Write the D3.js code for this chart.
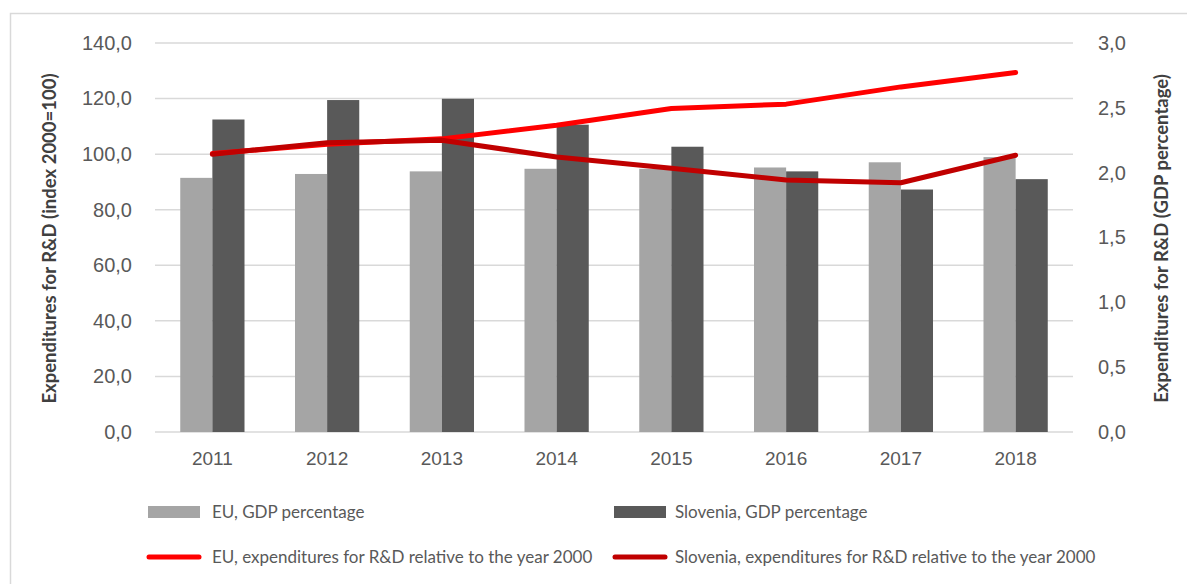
<!DOCTYPE html>
<html>
<head>
<meta charset="utf-8">
<script src="https://cdn.jsdelivr.net/npm/d3@7"></script>
<style>
  html, body { margin: 0; padding: 0; background: #fff; }
  svg { display: block; font-family: Lato, "Noto Sans", sans-serif; }
</style>
</head>
<body>
<div id="chart"></div>
<script>
const years = ["2011", "2012", "2013", "2014", "2015", "2016", "2017", "2018"];
// bars, GDP percentage (right axis)
const euGdp = [1.96, 1.99, 2.01, 2.03, 2.03, 2.04, 2.08, 2.12];
const sloGdp = [2.41, 2.56, 2.57, 2.37, 2.20, 2.01, 1.87, 1.95];
// lines, index 2000=100 (left axis)
const euIndex = [100.2, 103.6, 105.5, 110.4, 116.4, 118.0, 124.2, 129.4];
const sloIndex = [100.0, 104.1, 105.0, 99.0, 94.9, 90.7, 89.7, 99.6];
const leftTicks = [0, 20, 40, 60, 80, 100, 120, 140];
const rightTicks = [0, 0.5, 1.0, 1.5, 2.0, 2.5, 3.0];

const W = 1187, H = 584;
const plot = { left: 155, right: 1073, top: 43, bottom: 432 };

const svg = d3.select("#chart").append("svg")
    .attr("width", W)
    .attr("height", H);

// chart frame
svg.append("rect")
    .attr("x", 10.5).attr("y", 13.5)
    .attr("width", W).attr("height", H)
    .attr("fill", "none")
    .attr("stroke", "#d9d9d9")
    .attr("stroke-width", 1.5);

const x = d3.scaleBand()
    .domain(years)
    .range([plot.left, plot.right])
    .paddingInner(0.44)
    .paddingOuter(0.22);

const sub = d3.scaleBand()
    .domain(["eu", "slo"])
    .range([0, x.bandwidth()]);

const yL = d3.scaleLinear().domain([0, 140]).range([plot.bottom, plot.top]);
const yR = d3.scaleLinear().domain([0, 3]).range([plot.bottom, plot.top]);

// gridlines
svg.append("g")
    .selectAll("line")
    .data(leftTicks)
    .join("line")
    .attr("x1", plot.left).attr("x2", plot.right)
    .attr("y1", d => yL(d)).attr("y2", d => yL(d))
    .attr("stroke", "#d9d9d9")
    .attr("stroke-width", 1.5);

// left axis
const fmt1 = d => d.toFixed(1).replace(".", ",");
const leftAxis = svg.append("g")
    .attr("transform", `translate(${plot.left},0)`)
    .call(d3.axisLeft(yL).tickValues(leftTicks).tickFormat(fmt1).tickSize(0).tickPadding(23));
leftAxis.select(".domain").remove();
leftAxis.selectAll("text")
    .style("font-size", "20px")
    .attr("fill", "#595959");

// right axis
const rightAxis = svg.append("g")
    .attr("transform", `translate(${plot.right},0)`)
    .call(d3.axisRight(yR).tickValues(rightTicks).tickFormat(fmt1).tickSize(0).tickPadding(25));
rightAxis.select(".domain").remove();
rightAxis.selectAll("text")
    .style("font-size", "20px")
    .attr("fill", "#595959");

// bottom axis
const bottomAxis = svg.append("g")
    .attr("transform", `translate(0,${plot.bottom})`)
    .call(d3.axisBottom(x).tickSize(0).tickPadding(20));
bottomAxis.select(".domain").remove();
bottomAxis.selectAll("text")
    .style("font-size", "19px")
    .attr("fill", "#595959");

// axis titles
svg.append("text")
    .attr("transform", `translate(56,${(plot.top + plot.bottom) / 2 + 1}) rotate(-90)`)
    .attr("text-anchor", "middle")
    .style("font-size", "18.5px")
    .style("font-weight", "bold")
    .attr("fill", "#404040")
    .text("Expenditures for R&D (index 2000=100)");

svg.append("text")
    .attr("transform", `translate(1168,${(plot.top + plot.bottom) / 2 + 1}) rotate(-90)`)
    .attr("text-anchor", "middle")
    .style("font-size", "18.5px")
    .style("font-weight", "bold")
    .attr("fill", "#404040")
    .text("Expenditures for R&D (GDP percentage)");

// bars
const barData = years.map((yr, i) => ({ year: yr, eu: euGdp[i], slo: sloGdp[i] }));
const barColors = { eu: "#a5a5a5", slo: "#595959" };

const groups = svg.append("g")
    .selectAll("g")
    .data(barData)
    .join("g")
    .attr("transform", d => `translate(${x(d.year)},0)`);

groups.selectAll("rect")
    .data(d => ["eu", "slo"].map(k => ({ key: k, value: d[k] })))
    .join("rect")
    .attr("x", d => sub(d.key))
    .attr("y", d => yR(d.value))
    .attr("width", sub.bandwidth())
    .attr("height", d => yR(0) - yR(d.value))
    .attr("fill", d => barColors[d.key]);

// lines
const line = d3.line()
    .x((d, i) => x(years[i]) + x.bandwidth() / 2)
    .y(d => yL(d));

svg.append("path")
    .datum(euIndex)
    .attr("d", line)
    .attr("fill", "none")
    .attr("stroke", "#ff0000")
    .attr("stroke-width", 5)
    .attr("stroke-linejoin", "round")
    .attr("stroke-linecap", "round");

svg.append("path")
    .datum(sloIndex)
    .attr("d", line)
    .attr("fill", "none")
    .attr("stroke", "#c00000")
    .attr("stroke-width", 5)
    .attr("stroke-linejoin", "round")
    .attr("stroke-linecap", "round");

// legend
const legendItems = [
    { label: "EU, GDP percentage", type: "bar", color: "#a5a5a5", x: 148, y: 512 },
    { label: "Slovenia, GDP percentage", type: "bar", color: "#595959", x: 614, y: 512 },
    { label: "EU, expenditures for R&D relative to the year 2000", type: "line", color: "#ff0000", x: 148, y: 557 },
    { label: "Slovenia, expenditures for R&D relative to the year 2000", type: "line", color: "#c00000", x: 614, y: 557 }
];

const legend = svg.append("g")
    .selectAll("g")
    .data(legendItems)
    .join("g")
    .attr("transform", d => `translate(${d.x},${d.y})`);

legend.filter(d => d.type === "bar")
    .append("rect")
    .attr("x", 0).attr("y", -6)
    .attr("width", 52).attr("height", 12)
    .attr("fill", d => d.color);

legend.filter(d => d.type === "line")
    .append("line")
    .attr("x1", 1).attr("x2", 51)
    .attr("y1", 0).attr("y2", 0)
    .attr("stroke", d => d.color)
    .attr("stroke-width", 5)
    .attr("stroke-linecap", "round");

legend.append("text")
    .attr("x", d => d.x === 148 ? 64 : 61)
    .attr("y", 0)
    .attr("dy", "0.35em")
    .style("font-size", "17px")
    .attr("fill", "#595959")
    .text(d => d.label);
</script>
</body>
</html>
